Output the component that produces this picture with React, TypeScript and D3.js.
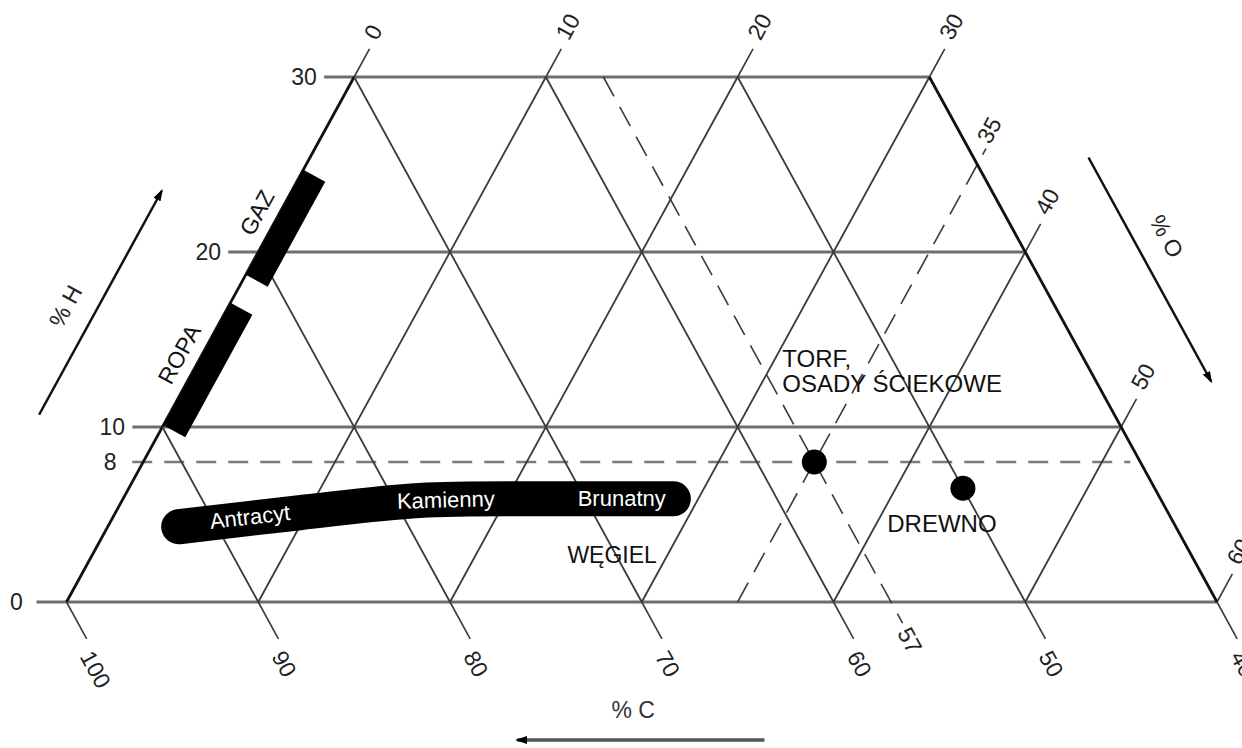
import React from 'react';
import * as d3 from 'd3';

// ---- data ----
const hTicks = [0, 10, 20, 30];          // % H gridlines
const hDashed = 8;                        // dashed % H line
const oTicks = [0, 10, 20, 30, 40, 50, 60]; // % O lines ("/")
const oDashed = 35;
const cTicks = [100, 90, 80, 70, 60, 50, 40]; // % C lines ("\")
const cDashed = 57;

const coalC = [92, 85.3, 78.7, 71.8, 65.4];
const coalH = [4.3, 5.1, 5.8, 5.9, 5.9];
const coalLabels = ['Antracyt', 'Kamienny', 'Brunatny'];
const coalLabelC = [88.0, 77.3, 68.1];
const coalLabelH = [4.86, 5.83, 5.89];
const coalTitle = 'WĘGIEL';
const coalTitleC = 70.2;
const coalTitleH = 2.69;

const pointLabels = [['TORF,', 'OSADY ŚCIEKOWE'], ['DREWNO']];
const pointC = [57, 50];
const pointH = [8, 6.5];

const barNames = ['ROPA', 'GAZ'];
const barHlo = [10.1, 18.7];
const barHhi = [17.1, 24.7];

const FONT = '"Liberation Sans", Arial, Helvetica, sans-serif';
const FS = 23;

export default function App() {
  const sx = d3.scaleLinear().domain([0, 60]).range([66.5, 1217]);
  const sy = d3.scaleLinear().domain([0, 30]).range([602, 77]);
  const pt = (c: number, h: number): [number, number] => [sx(100 - c - h + h / 2), sy(h)];

  const a0 = pt(70, 0), a1 = pt(69, 1), a2 = pt(70, 1);
  const l1 = Math.hypot(a1[0] - a0[0], a1[1] - a0[1]);
  const up: [number, number] = [(a1[0] - a0[0]) / l1, (a1[1] - a0[1]) / l1];
  const l2 = Math.hypot(a0[0] - a2[0], a0[1] - a2[1]);
  const down: [number, number] = [(a0[0] - a2[0]) / l2, (a0[1] - a2[1]) / l2];
  const angUp = (Math.atan2(up[1], up[0]) * 180) / Math.PI;
  const angDown = (Math.atan2(down[1], down[0]) * 180) / Math.PI;
  const perpUL: [number, number] = [up[1], -up[0]];
  const perpDL: [number, number] = [-down[1], down[0]];
  const perpDR: [number, number] = [-perpUL[0], -perpUL[1]];
  const add = (p: [number, number], v: [number, number], k: number): [number, number] => [p[0] + v[0] * k, p[1] + v[1] * k];
  const tw = (s: string) => s.length * 0.556 * FS;

  const gridStroke = '#3a3a3a';
  const hStroke = '#6e6e6e';

  const elems: React.ReactNode[] = [];

  // horizontal H lines
  hTicks.forEach((h) => {
    const l = pt(100 - h, h);
    const r = pt(40, h);
    elems.push(
      <line key={'h' + h} x1={l[0] - 30} y1={l[1]} x2={r[0]} y2={r[1]} stroke={hStroke} strokeWidth={3} />
    );
    elems.push(
      <text key={'ht' + h} x={l[0] - 50} y={l[1]} textAnchor="middle" dominantBaseline="central" fontSize={FS} fill="#222" fontFamily={FONT}>
        {h}
      </text>
    );
  });
  {
    const l = pt(100 - hDashed, hDashed);
    const r = pt(40, hDashed);
    elems.push(
      <line key="hd" x1={l[0] - 11} y1={l[1]} x2={r[0] - 10} y2={r[1]} stroke="#7a7a7a" strokeWidth={2.5} strokeDasharray="20 12" />
    );
    elems.push(
      <text key="hdt" x={l[0] - 33} y={l[1]} textAnchor="middle" dominantBaseline="central" fontSize={FS} fill="#222" fontFamily={FONT}>
        {hDashed}
      </text>
    );
  }

  // O lines "/"
  oTicks.forEach((o) => {
    const c0 = 100 - o;
    const htop = Math.min(30, 60 - o);
    const p0 = pt(c0, 0);
    const p1 = pt(c0 - htop, htop);
    const ext = add(p1, up, 32);
    const edge = o === 0;
    elems.push(
      <line key={'o' + o} x1={p0[0]} y1={p0[1]} x2={p1[0]} y2={p1[1]} stroke={edge ? '#111' : gridStroke} strokeWidth={edge ? 2.8 : 1.8} />
    );
    elems.push(<line key={'oe' + o} x1={p1[0]} y1={p1[1]} x2={ext[0]} y2={ext[1]} stroke={gridStroke} strokeWidth={1.6} />);
    const s = String(o);
    const lc = add(add(p1, up, 42 + tw(s) / 2), perpUL, 5);
    elems.push(
      <text key={'ot' + o} x={lc[0]} y={lc[1]} textAnchor="middle" dominantBaseline="central" fontSize={FS} fill="#222" fontFamily={FONT}
        transform={`rotate(${angUp},${lc[0]},${lc[1]})`}>
        {s}
      </text>
    );
  });
  {
    const p0 = pt(100 - oDashed, 0);
    const htop = Math.min(30, 60 - oDashed);
    const p1 = pt(100 - oDashed - htop, htop);
    const ext = add(p1, up, 18);
    elems.push(
      <line key="od" x1={p0[0]} y1={p0[1]} x2={ext[0]} y2={ext[1]} stroke={gridStroke} strokeWidth={1.6} strokeDasharray="22 12" />
    );
    const s = String(oDashed);
    const lc = add(add(p1, up, 23 + tw(s) / 2), perpUL, 6);
    elems.push(
      <text key="odt" x={lc[0]} y={lc[1]} textAnchor="middle" dominantBaseline="central" fontSize={FS} fill="#222" fontFamily={FONT}
        transform={`rotate(${angUp},${lc[0]},${lc[1]})`}>
        {s}
      </text>
    );
  }

  // C lines "\"
  cTicks.forEach((c) => {
    const htop = Math.min(30, 100 - c);
    const p0 = pt(c, 0);
    const p1 = pt(c, htop);
    const ext = add(p0, down, 42);
    const edge = c === 40;
    elems.push(
      <line key={'c' + c} x1={p0[0]} y1={p0[1]} x2={p1[0]} y2={p1[1]} stroke={edge ? '#111' : gridStroke} strokeWidth={edge ? 2.8 : 1.8} />
    );
    elems.push(<line key={'ce' + c} x1={p0[0]} y1={p0[1]} x2={ext[0]} y2={ext[1]} stroke={gridStroke} strokeWidth={1.6} />);
    const s = String(c);
    const lc = add(add(p0, down, 54 + tw(s) / 2), perpDL, 7);
    elems.push(
      <text key={'ct' + c} x={lc[0]} y={lc[1]} textAnchor="middle" dominantBaseline="central" fontSize={FS} fill="#222" fontFamily={FONT}
        transform={`rotate(${angDown},${lc[0]},${lc[1]})`}>
        {s}
      </text>
    );
  });
  {
    const p0 = pt(cDashed, 0);
    const p1 = pt(cDashed, Math.min(30, 100 - cDashed));
    const ext = add(p0, down, 24);
    elems.push(
      <line key="cd" x1={p1[0]} y1={p1[1]} x2={ext[0]} y2={ext[1]} stroke={gridStroke} strokeWidth={1.6} strokeDasharray="22 12" />
    );
    const s = String(cDashed);
    const lc = add(add(p0, down, 30 + tw(s) / 2), perpDL, 2);
    elems.push(
      <text key="cdt" x={lc[0]} y={lc[1]} textAnchor="middle" dominantBaseline="central" fontSize={FS} fill="#222" fontFamily={FONT}
        transform={`rotate(${angDown},${lc[0]},${lc[1]})`}>
        {s}
      </text>
    );
  }

  // bars (ROPA, GAZ)
  barNames.forEach((n, i) => {
    const p1 = pt(100 - barHlo[i], barHlo[i]);
    const p2 = pt(100 - barHhi[i], barHhi[i]);
    const p3 = add(p2, perpDR, 25);
    const p4 = add(p1, perpDR, 25);
    elems.push(<polygon key={'b' + n} points={[p1, p2, p3, p4].map((p) => p.join(',')).join(' ')} fill="#000" />);
    const hm = (barHlo[i] + barHhi[i]) / 2;
    const lc = add(pt(100 - hm, hm), perpUL, 20);
    elems.push(
      <text key={'bt' + n} x={lc[0]} y={lc[1]} textAnchor="middle" dominantBaseline="central" fontSize={FS} fill="#111" fontFamily={FONT}
        transform={`rotate(${angUp},${lc[0]},${lc[1]})`}>
        {n}
      </text>
    );
  });

  // coal band
  const coalPts = coalC.map((c, i) => pt(c, coalH[i]));
  const bandPath = d3.line().curve(d3.curveCatmullRom)(coalPts) || '';
  elems.push(<path key="band" d={bandPath} fill="none" stroke="#000" strokeWidth={35} strokeLinecap="round" strokeLinejoin="round" />);
  const interpY = (x: number) => {
    for (let i = 0; i < coalPts.length - 1; i++) {
      const [x0, y0] = coalPts[i];
      const [x1, y1] = coalPts[i + 1];
      if (x <= x1 || i === coalPts.length - 2) return y0 + ((y1 - y0) * (x - x0)) / (x1 - x0);
    }
    return coalPts[0][1];
  };
  coalLabels.forEach((s, i) => {
    const p = pt(coalLabelC[i], coalLabelH[i]);
    const ang = (Math.atan2(interpY(p[0] + 40) - interpY(p[0] - 40), 80) * 180) / Math.PI;
    elems.push(
      <text key={'cl' + i} x={p[0]} y={p[1]} textAnchor="middle" dominantBaseline="central" fontSize={FS - 1} fill="#fff" fontFamily={FONT}
        transform={`rotate(${ang},${p[0]},${p[1]})`}>
        {s}
      </text>
    );
  });
  {
    const p = pt(coalTitleC, coalTitleH);
    elems.push(
      <text key="wt" x={p[0]} y={p[1]} textAnchor="middle" dominantBaseline="central" fontSize={FS} fill="#111" fontFamily={FONT}>
        {coalTitle}
      </text>
    );
  }

  // points
  pointC.forEach((c, i) => {
    const p = pt(c, pointH[i]);
    elems.push(<circle key={'p' + i} cx={p[0]} cy={p[1]} r={12.5} fill="#000" />);
    const lines = pointLabels[i];
    if (lines.length > 1) {
      lines.forEach((s, j) => {
        elems.push(
          <text key={'pl' + i + j} x={p[0] - 32} y={p[1] - 95 + j * 25} textAnchor="start" fontSize={FS + 1} fill="#111" fontFamily={FONT}>
            {s}
          </text>
        );
      });
    } else {
      elems.push(
        <text key={'pl' + i} x={p[0] - 21} y={p[1] + 44} textAnchor="middle" fontSize={FS + 1} fill="#111" fontFamily={FONT}>
          {lines[0]}
        </text>
      );
    }
  });

  // axis titles with arrows
  const hA0 = pt(100 - 10.7, 10.7), hA1 = pt(100 - 23.5, 23.5);
  const hT = pt(100 - 16.9, 16.9);
  const oA0 = pt(40, 25.4), oA1 = pt(40, 12.6);
  const oT = pt(40, 20.9);
  const cA0 = pt(63.6, 0), cA1 = pt(76.5, 0);
  const cT = pt(70.45, 0);

  return (
    <svg width={1242} height={748} style={{ position: 'absolute', left: 0, top: 0, background: '#fff' }}>
      <defs>
        <marker id="ah" viewBox="0 0 12 8" refX={10} refY={4} markerWidth={12} markerHeight={8} markerUnits="userSpaceOnUse" orient="auto">
          <path d="M0,0 L12,4 L0,8 z" fill="#000" />
        </marker>
      </defs>
      <rect x={0} y={0} width={1242} height={748} fill="#fff" />
      {elems}
      <line x1={hA0[0] - 130} y1={hA0[1]} x2={hA1[0] - 130} y2={hA1[1]} stroke="#111" strokeWidth={2.5} markerEnd="url(#ah)" />
      <text x={hT[0] - 163} y={hT[1]} textAnchor="middle" dominantBaseline="central" fontSize={FS} fill="#222" fontFamily={FONT}
        transform={`rotate(${angUp},${hT[0] - 163},${hT[1]})`}>% H</text>
      <line x1={oA0[0] + 115} y1={oA0[1]} x2={oA1[0] + 115} y2={oA1[1]} stroke="#111" strokeWidth={2.5} markerEnd="url(#ah)" />
      <text x={oT[0] + 150} y={oT[1]} textAnchor="middle" dominantBaseline="central" fontSize={FS} fill="#222" fontFamily={FONT}
        transform={`rotate(${angDown},${oT[0] + 150},${oT[1]})`}>% O</text>
      <line x1={cA0[0]} y1={cA0[1] + 138} x2={cA1[0]} y2={cA1[1] + 138} stroke="#555" strokeWidth={3.5} markerEnd="url(#ah)" />
      <text x={cT[0]} y={cT[1] + 108} textAnchor="middle" dominantBaseline="central" fontSize={FS} fill="#333" fontFamily={FONT}>% C</text>
    </svg>
  );
}
